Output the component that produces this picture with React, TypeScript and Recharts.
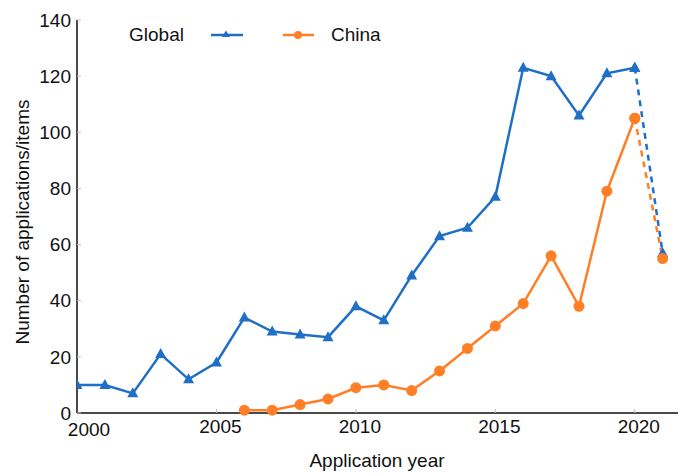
import { LineChart, Line, XAxis, YAxis, Label } from 'recharts';

const years = [
  2000, 2001, 2002, 2003, 2004, 2005, 2006, 2007, 2008, 2009, 2010,
  2011, 2012, 2013, 2014, 2015, 2016, 2017, 2018, 2019, 2020, 2021,
];
const globalCounts = [10, 10, 7, 21, 12, 18, 34, 29, 28, 27, 38, 33, 49, 63, 66, 77, 123, 120, 106, 121, 123, 57];
const chinaCounts = [null, null, null, null, null, null, 1, 1, 3, 5, 9, 10, 8, 15, 23, 31, 39, 56, 38, 79, 105, 55];
const xTicks = [2000, 2005, 2010, 2015, 2020];
const yTicks = [0, 20, 40, 60, 80, 100, 120, 140];

// last year is still incomplete, so it gets its own dashed segment
const lastFullYear = 2020;

const BLUE = '#1f6fc6';
const ORANGE = '#ff7f27';
const AXIS = '#4a4a4a';
const FONT = '"Liberation Sans", Arial, sans-serif';

const rows = years.map((year, i) => ({
  year,
  global: year <= lastFullYear ? globalCounts[i] : null,
  globalTail: year >= lastFullYear ? globalCounts[i] : null,
  china: year <= lastFullYear ? chinaCounts[i] : null,
  chinaTail: year >= lastFullYear ? chinaCounts[i] : null,
}));

function TriangleDot(props: any) {
  const { cx, cy } = props;
  if (cx == null || cy == null) return <g />;
  return <polygon points={`${cx},${cy - 6} ${cx - 5.5},${cy + 4} ${cx + 5.5},${cy + 4}`} fill={BLUE} />;
}

function CircleDot(props: any) {
  const { cx, cy } = props;
  if (cx == null || cy == null) return <g />;
  return <circle cx={cx} cy={cy} r={5.5} fill={ORANGE} />;
}

// year labels sit a little right of their tick; the first one is nudged clear of the "0"
function YearTick(props: any) {
  const { x, y, payload } = props;
  const first = payload.value === xTicks[0];
  return (
    <text
      x={x + (first ? 12 : 4)}
      y={y + (first ? 3 : 0)}
      dy="0.71em"
      textAnchor="middle"
      fontSize={19}
      fill="#111"
      fontFamily={FONT}
    >
      {payload.value}
    </text>
  );
}

function SeriesKey() {
  return (
    <svg width={300} height={30} style={{ position: 'absolute', left: 120, top: 20 }}>
      <text x={9} y={21} fontSize={19} fill="#111" fontFamily={FONT}>Global</text>
      <line x1={91} x2={123} y1={15} y2={15} stroke={BLUE} strokeWidth={2.5} />
      <polygon points="106,10.5 102,17 110,17" fill={BLUE} />
      <line x1={163} x2={194} y1={15} y2={15} stroke={ORANGE} strokeWidth={2.5} />
      <circle cx={178} cy={15} r={4} fill={ORANGE} />
      <text x={211} y={21} fontSize={19} fill="#111" fontFamily={FONT}>China</text>
    </svg>
  );
}

export default function App() {
  const tickStyle = { fill: '#111', fontSize: 19, fontFamily: FONT };
  return (
    <div style={{ position: 'absolute', left: 0, top: 0, width: 678, height: 473, background: '#fff' }}>
      <LineChart width={678} height={473} data={rows} margin={{ top: 20, right: 0, bottom: 0, left: 0 }}>
        <XAxis
          dataKey="year"
          type="number"
          domain={[2000, 2021.55]}
          ticks={xTicks}
          allowDataOverflow
          height={60}
          tick={<YearTick />}
          tickSize={-4}
          tickMargin={11}
          tickLine={{ stroke: '#bbb' }}
          axisLine={{ stroke: AXIS, strokeWidth: 2 }}
        >
          <Label
            content={() => (
              <text x={377} y={467} textAnchor="middle" fontSize={19} fill="#111" fontFamily={FONT}>
                Application year
              </text>
            )}
          />
        </XAxis>
        <YAxis
          type="number"
          domain={[0, 140]}
          ticks={yTicks}
          width={77}
          tick={tickStyle}
          tickSize={-4}
          tickMargin={10}
          tickLine={{ stroke: '#bbb' }}
          axisLine={{ stroke: AXIS, strokeWidth: 2 }}
        >
          <Label
            content={() => (
              <text
                x={22}
                y={222}
                textAnchor="middle"
                dominantBaseline="central"
                transform="rotate(-90, 22, 222)"
                fontSize={19}
                fill="#111"
                fontFamily={FONT}
              >
                Number of applications/items
              </text>
            )}
          />
        </YAxis>
        <Line dataKey="global" stroke={BLUE} strokeWidth={2.5} dot={<TriangleDot />} activeDot={false} isAnimationActive={false} />
        <Line dataKey="globalTail" stroke={BLUE} strokeWidth={2.5} strokeDasharray="6 5" dot={<TriangleDot />} activeDot={false} isAnimationActive={false} />
        <Line dataKey="china" stroke={ORANGE} strokeWidth={2.5} dot={<CircleDot />} activeDot={false} isAnimationActive={false} />
        <Line dataKey="chinaTail" stroke={ORANGE} strokeWidth={2.5} strokeDasharray="6 5" dot={<CircleDot />} activeDot={false} isAnimationActive={false} />
      </LineChart>
      <SeriesKey />
    </div>
  );
}
